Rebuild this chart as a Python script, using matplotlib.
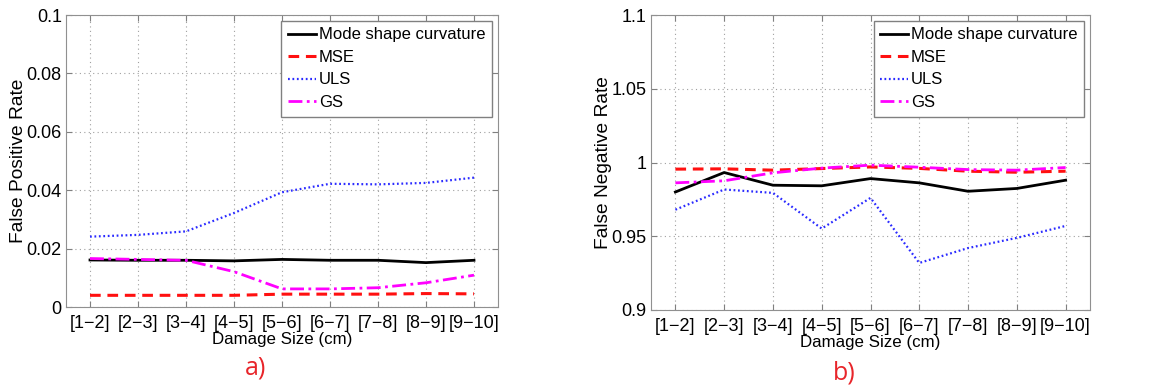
import numpy as np
import matplotlib
matplotlib.use("Agg")
import matplotlib.pyplot as plt

plt.rcParams['font.family'] = ['Liberation Sans', 'DejaVu Sans']

sizes = ["[1\u22122]", "[2\u22123]", "[3\u22124]", "[4\u22125]", "[5\u22126]",
         "[6\u22127]", "[7\u22128]", "[8\u22129]", "[9\u221210]"]

# false positive rates
fp_curv = [0.0161, 0.0160, 0.0160, 0.0158, 0.0163, 0.0160, 0.0160, 0.0152, 0.0160]
fp_mse = [0.0040, 0.0040, 0.0040, 0.0040, 0.0044, 0.0044, 0.0044, 0.0046, 0.0045]
fp_uls = [0.0241, 0.0247, 0.0259, 0.0322, 0.0393, 0.0422, 0.0420, 0.0425, 0.0443]
fp_gs = [0.0166, 0.0163, 0.0160, 0.0121, 0.0062, 0.0062, 0.0066, 0.0083, 0.0109]

# false negative rates
fn_curv = [0.980, 0.9932, 0.9846, 0.9842, 0.9891, 0.9862, 0.9805, 0.9824, 0.9880]
fn_mse = [0.9955, 0.9957, 0.9948, 0.9959, 0.9970, 0.9960, 0.9941, 0.9934, 0.9941]
fn_uls = [0.968, 0.9817, 0.9794, 0.9552, 0.976, 0.9319, 0.942, 0.9489, 0.957]
fn_gs = [0.9862, 0.9876, 0.9930, 0.9962, 0.9982, 0.9968, 0.9952, 0.9948, 0.9966]

names = ["Mode shape curvature", "MSE", "ULS", "GS"]
x = np.arange(1, len(sizes) + 1)

fig = plt.figure(figsize=(11.58, 3.89), dpi=100)
ax1 = fig.add_axes([66/1158, 1 - 307/389, 432/1158, 292/389])
ax2 = fig.add_axes([651/1158, 1 - 310/389, 439/1158, 295/389])

def draw(ax, curv, mse, uls, gs, ylabel, ylim, yticks, ylabels):
    ax.plot(x, curv, color='k', lw=2.0, label=names[0])
    ax.plot(x, mse, color='#ff1010', ls=(0, (3.5, 2.2)), lw=2.2, label=names[1])
    ax.plot(x, uls, color='#2a2aff', ls=(0, (0.8, 1.2)), lw=1.6, label=names[2])
    ax.plot(x, gs, color='#ff00ff', ls=(0, (5, 1.6, 1, 1.6)), lw=2.0, label=names[3])
    ax.set_xlim(0.5, 9.5)
    ax.set_ylim(*ylim)
    ax.set_xticks(x)
    ax.set_xticklabels(sizes)
    ax.set_yticks(yticks)
    ax.set_yticklabels(ylabels)
    ax.grid(True, color='#a0a0a0', ls=(0, (1, 3)), lw=0.8)
    ax.tick_params(direction='in', top=True, right=True, labelsize=13,
                   length=4, color='#808080')
    ax.tick_params(axis='x', pad=6)
    ax.tick_params(axis='y', pad=3)
    for s in ax.spines.values():
        s.set_color('#909090')
    ax.set_xlabel("Damage Size (cm)", fontsize=12.2, labelpad=0)
    ax.set_ylabel(ylabel, fontsize=13.8, labelpad=0)
    leg = ax.legend(loc='upper right', fontsize=12, handlelength=1.65,
                    handletextpad=0.2, borderaxespad=0.35, labelspacing=0.45,
                    fancybox=False, framealpha=1, borderpad=0.4)
    leg.get_frame().set_edgecolor('#808080')

draw(ax1, fp_curv, fp_mse, fp_uls, fp_gs, "False Positive Rate", (0, 0.1),
     [0, 0.02, 0.04, 0.06, 0.08, 0.1], ["0", "0.02", "0.04", "0.06", "0.08", "0.1"])
draw(ax2, fn_curv, fn_mse, fn_uls, fn_gs, "False Negative Rate", (0.9, 1.1),
     [0.9, 0.95, 1.0, 1.05, 1.1], ["0.9", "0.95", "1", "1.05", "1.1"])

fig.text(256/1158, 1 - 368/389, "a)", color='#e8252a', fontsize=18,
         ha='center', va='center', family='Open Sans')
fig.text(844/1158, 1 - 373/389, "b)", color='#e8252a', fontsize=18,
         ha='center', va='center', family='Open Sans')

fig.savefig("out.png", dpi=100)
